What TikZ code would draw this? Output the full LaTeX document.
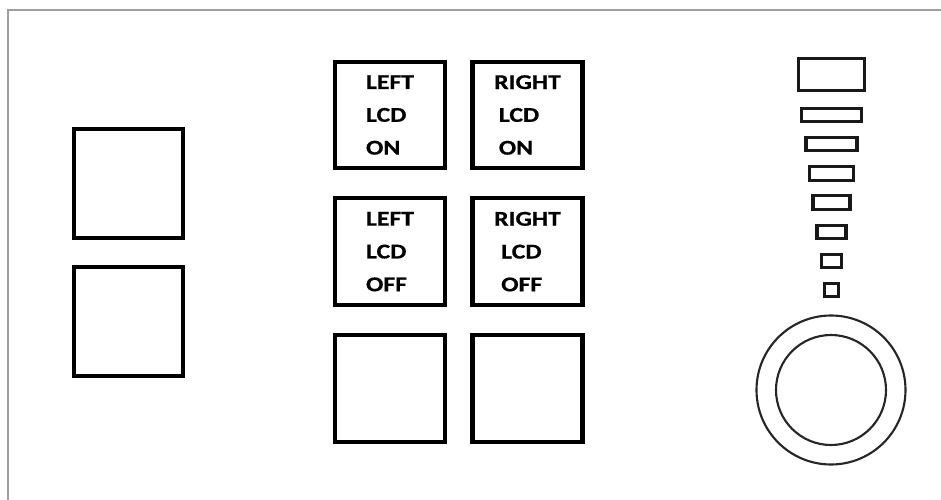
\documentclass[tikz,border=0pt]{standalone}
\usepackage{fontspec}
\newfontfamily\btnfont{Carlito}[FakeStretch=1.22,FakeBold=0.6]
\usetikzlibrary{positioning}
\tikzstyle{btn}=[draw, line width=3.6pt, minimum width=3.3cm, minimum height=3.2cm, inner sep=0pt, align=left, font=\btnfont\bfseries\fontsize{18}{28}\selectfont]
\tikzstyle{key}=[btn, minimum width=3.27cm, minimum height=3.27cm]
\tikzstyle{led}=[draw=black!90, line width=2.6pt, inner sep=0pt, minimum height=0.4cm]
\tikzstyle{ring}=[draw=black!85, line width=1.8pt, circle, inner sep=0pt]

\begin{document}
\begin{tikzpicture}[x=0.03cm,y=-0.03cm,node distance=4.1cm]
    \useasboundingbox (0,0) rectangle (941,500);
    \draw[gray!75, line width=1.5pt] (8,500) -- (8,10) -- (941,10);
    % left keys
    \node [key] (keya) at (128.5,183.5) {};
    \node [key] (keyb) at (128.5,321.5) {};
    % lcd switches
    \node [btn] (lefton) at (390,115) {LEFT\\LCD\\ON};
    \node [btn, right of=lefton, node distance=4.125cm] (righton) {RIGHT\\\hspace*{4pt}LCD\\\hspace*{4pt}ON};
    \node [btn, below of=lefton] (leftoff) {LEFT\\LCD\\OFF};
    \node [btn, right of=leftoff, node distance=4.125cm] (rightoff) {RIGHT\\\hspace*{6pt}LCD\\\hspace*{6pt}OFF};
    \node [btn, below of=leftoff] (blanka) {};
    \node [btn, right of=blanka, node distance=4.125cm] (blankb) {};
    % level bar
    \node [led, minimum width=1.98cm, minimum height=0.96cm] (lvl0) at (831.5,74.5) {};
    \foreach \w [count=\i] in {1.8,1.53,1.32,1.11,0.87,0.6,0.42}
        \node [led, minimum width=\w cm] (lvl\i) at (831.5,{115+(\i-1)*29.2}) {};
    % knob
    \node [ring, minimum size=4.47cm] (knob) at (831,390) {};
    \node [ring, minimum size=3.3cm] (knobin) at (knob) {};
\end{tikzpicture}
\end{document}
